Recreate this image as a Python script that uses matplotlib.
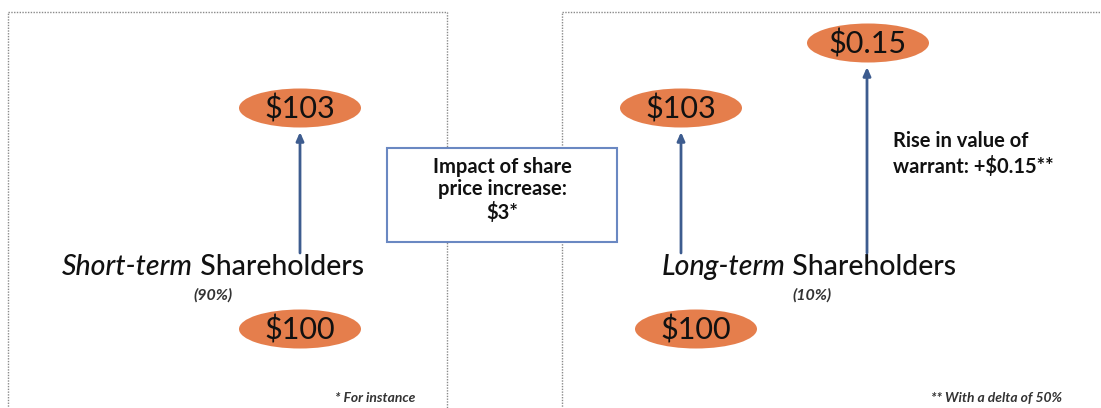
import matplotlib
matplotlib.use("Agg")
import matplotlib.pyplot as plt
from matplotlib.patches import Ellipse, Rectangle

plt.rcParams["font.family"] = ["Lato", "DejaVu Sans"]

# ── content ─────────────────────────────────────────────────────────────
groups = ["Short-term", "Long-term"]
group_shares = ["(90%)", "(10%)"]
before_values = ["$100", "$100"]
after_values = ["$103", "$103"]
warrant_value = "$0.15"
impact_text = "Impact of share\nprice increase:\n$3*"
warrant_text = "Rise in value of\nwarrant: +$0.15**"
footnotes = ["* For instance", "** With a delta of 50%"]

ORANGE = "#E57E4C"
ARROW = "#3D5C8F"
BOXBLUE = "#6A88C2"
TXT = "#111111"

W, H = 1101, 408
fig = plt.figure(figsize=(W / 100, H / 100), dpi=100)
ax = fig.add_axes([0, 0, 1, 1])
ax.set_xlim(0, W)
ax.set_ylim(H, 0)
ax.axis("off")

# dotted panel frames
for x0, x1 in [(8, 447), (562, 1115)]:
    ax.add_patch(Rectangle((x0, 12), x1 - x0, 420, fill=False, ec="#8a8a8a",
                           ls=(0, (1, 1)), lw=1.0))


def oval(cx, cy, label, w=122, h=39):
    ax.add_patch(Ellipse((cx, cy), w, h, color=ORANGE, ec="none"))
    ax.text(cx, cy + 1, label, ha="center", va="center", fontsize=22, color=TXT)


def arrow(x, y0, y1):
    ax.annotate("", xy=(x, y1), xytext=(x, y0),
                arrowprops=dict(arrowstyle="-|>,head_length=0.5,head_width=0.22",
                                color=ARROW, lw=2.0, shrinkA=0, shrinkB=0))


# panel layout: (after-oval x, before-oval x, title centre x, share x)
layout = [(300, 300, 213, 213), (681, 696, 809, 812)]
for (ax_x, bx_x, tx, sx), grp, share, bv, av in zip(layout, groups, group_shares,
                                                    before_values, after_values):
    oval(ax_x, 108, av)
    oval(bx_x, 329, bv)
    arrow(ax_x, 253, 132)
    t1 = ax.text(0, 267, grp, ha="left", va="center", fontsize=20.5,
                 style="italic", weight="medium", color=TXT)
    t2 = ax.text(0, 267, " Shareholders", ha="left", va="center", fontsize=20.5,
                 weight="medium", color=TXT)
    ax.text(sx, 295, share, ha="center", va="center", fontsize=11.5,
            style="italic", weight="bold", color="#333333")
    # centre the two-part title on tx
    fig.canvas.draw()
    inv = ax.transData.inverted()
    b1 = t1.get_window_extent()
    b2 = t2.get_window_extent()
    w1 = inv.transform((b1.x1, 0))[0] - inv.transform((b1.x0, 0))[0]
    w2 = inv.transform((b2.x1, 0))[0] - inv.transform((b2.x0, 0))[0]
    left = tx - (w1 + w2) / 2
    t1.set_x(left)
    t2.set_x(left + w1)

# warrant oval and arrow
oval(868, 43, warrant_value)
arrow(867, 253, 67)
ax.text(893, 154, warrant_text, ha="left", va="center", fontsize=14.5,
        weight="bold", color=TXT, linespacing=1.25)

# central impact box
ax.add_patch(Rectangle((387, 148), 230, 94, fc="white", ec=BOXBLUE, lw=1.5,
                       zorder=3))
ax.text(502, 190, impact_text, ha="center", va="center", fontsize=14.5,
        weight="bold", color=TXT, linespacing=1.15, zorder=4)

# footnotes
ax.text(415, 398, footnotes[0], ha="right", va="center", fontsize=10,
        style="italic", weight="bold", color="#333333")
ax.text(1062, 398, footnotes[1], ha="right", va="center", fontsize=10,
        style="italic", weight="bold", color="#333333")

fig.savefig("out.png", dpi=100, facecolor="white")
